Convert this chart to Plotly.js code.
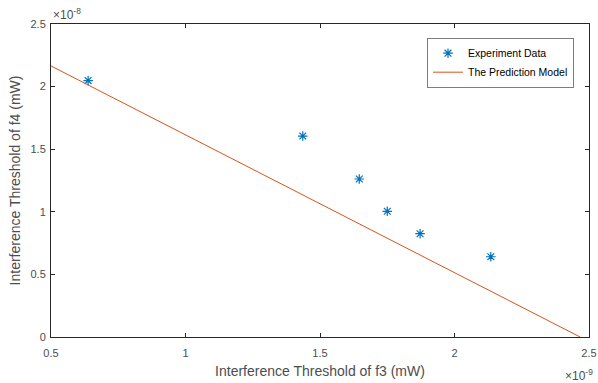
<!DOCTYPE html>
<html>
<head>
<meta charset="utf-8">
<script src="https://cdn.plot.ly/plotly-3.0.1.min.js"></script>
<style>html,body{margin:0;padding:0;background:#fff;}#chart{width:598px;height:383px;}</style>
</head>
<body>
<div id="chart"></div>
<script>
// Values in axis units: x in 1e-9 mW, y in 1e-8 mW
const expX = [0.638, 1.436, 1.646, 1.750, 1.872, 2.135];
const expY = [2.048, 1.605, 1.262, 1.004, 0.825, 0.641];
const modelX = [0.5, 2.467];
const modelY = [2.165, 0.0];
const xTicks = [0.5, 1, 1.5, 2, 2.5];
const yTicks = [0, 0.5, 1, 1.5, 2, 2.5];
const xTickText = ['0.5', '1', '1.5', '2', '2.5'];
const yTickText = ['0', '0.5', '1', '1.5', '2', '2.5'];

const axisColor = '#262626';
const textColor = '#4d4d4d';
const font = {family: 'Arial, "Liberation Sans", sans-serif', size: 11, color: textColor};

const traces = [
  {x: expX, y: expY, mode: 'markers', type: 'scatter', name: 'Experiment Data',
   marker: {symbol: 'asterisk-open', size: 8, color: '#0072BD', line: {color: '#0072BD', width: 1.2}}},
  {x: modelX, y: modelY, mode: 'lines', type: 'scatter', name: 'The Prediction Model',
   line: {color: '#D95319', width: 1}}
];

const layout = {
  width: 598, height: 383,
  margin: {l: 51, r: 9, t: 24, b: 46},
  paper_bgcolor: '#fff', plot_bgcolor: '#fff',
  font: font,
  showlegend: true,
  legend: {x: 0.971, y: 0.955, xanchor: 'right', yanchor: 'top', bgcolor: '#fff',
           bordercolor: axisColor, borderwidth: 0.6, font: {size: 10.5, color: '#000'},
           tracegroupgap: 0, itemwidth: 30},
  xaxis: {range: [0.5, 2.5], tickvals: xTicks, ticktext: xTickText, ticks: 'inside', ticklen: 4,
          tickcolor: axisColor, showline: true, linecolor: axisColor, linewidth: 1, mirror: 'ticks',
          showgrid: false, zeroline: false, tickfont: {size: 11, color: textColor},
          ticklabelstandoff: 6,
          title: {text: 'Interference Threshold of f3 (mW)', font: {size: 14, color: textColor}, standoff: 7}},
  yaxis: {range: [0, 2.5], tickvals: yTicks, ticktext: yTickText, ticks: 'inside', ticklen: 4,
          tickcolor: axisColor, showline: true, linecolor: axisColor, linewidth: 1, mirror: 'ticks',
          showgrid: false, zeroline: false, tickfont: {size: 11, color: textColor},
          ticklabelstandoff: 2,
          title: {text: 'Interference Threshold of f4 (mW)', font: {size: 14, color: textColor}, standoff: 6}},
  annotations: [
    {xref: 'paper', yref: 'paper', x: 0, y: 1, xanchor: 'left', yanchor: 'bottom', yshift: 0,
     text: '×10<sup>-8</sup>', showarrow: false, font: {size: 12, color: textColor}},
    {xref: 'paper', yref: 'paper', x: 1, y: 0, xanchor: 'right', yanchor: 'top', yshift: -28, xshift: 6,
     text: '×10<sup>-9</sup>', showarrow: false, font: {size: 12, color: textColor}}
  ]
};

Plotly.newPlot('chart', traces, layout, {displayModeBar: false, staticPlot: true});
</script>
</body>
</html>
